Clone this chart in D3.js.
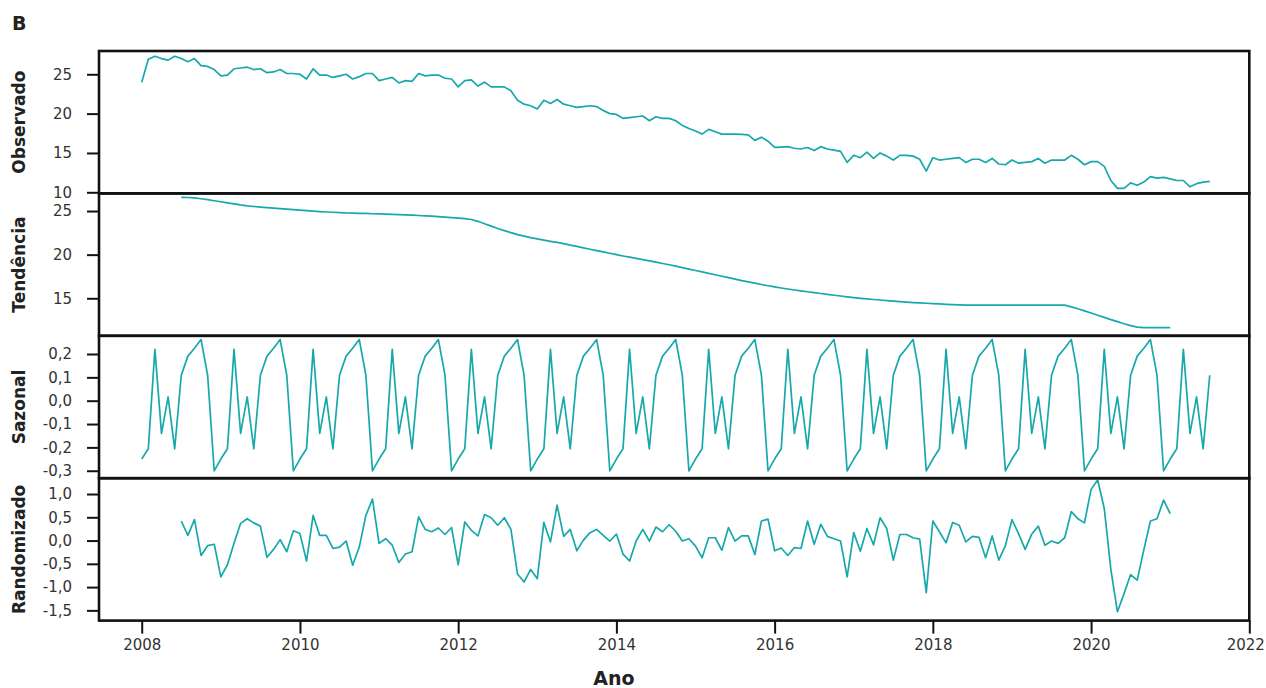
<!DOCTYPE html>
<html><head><meta charset="utf-8">
<script src="https://cdn.jsdelivr.net/npm/d3@7"></script>
<style>body{margin:0;background:#fff}svg{display:block}</style>
</head><body>
<svg id="chart" width="1266" height="688"></svg>
<script>
// ---- DATA (monthly series, first month = Jan 2008) ----
const startYear = 2008;
const observado = [
24.0,26.9,27.3,27.0,26.8,27.3,27.0,26.6,27.0,26.1,26.0,25.6,
24.8,24.9,25.7,25.8,25.9,25.6,25.7,25.2,25.3,25.6,25.1,25.1,
25.0,24.4,25.7,24.9,24.9,24.6,24.8,25.0,24.4,24.7,25.1,25.1,
24.2,24.4,24.6,23.9,24.2,24.1,25.1,24.8,24.9,24.9,24.5,24.4,
23.4,24.2,24.3,23.5,24.0,23.4,23.4,23.4,22.9,21.7,21.2,21.0,
20.6,21.7,21.3,21.8,21.2,21.0,20.8,20.9,21.0,20.9,20.4,20.0,
19.9,19.4,19.5,19.6,19.7,19.1,19.6,19.4,19.4,19.1,18.5,18.1,
17.8,17.4,18.0,17.7,17.4,17.4,17.4,17.35,17.3,16.6,17.0,16.5,
15.7,15.75,15.8,15.6,15.5,15.7,15.3,15.8,15.5,15.35,15.2,13.8,
14.7,14.4,15.1,14.3,15.0,14.6,14.1,14.7,14.7,14.6,14.2,12.7,
14.4,14.1,14.2,14.3,14.4,13.8,14.2,14.2,13.8,14.3,13.6,13.5,
14.1,13.7,13.8,13.9,14.3,13.7,14.1,14.1,14.1,14.7,14.2,13.5,
13.9,13.9,13.3,11.5,10.5,10.5,11.2,10.9,11.3,12.0,11.8,11.9,
11.7,11.5,11.5,10.7,11.1,11.3,11.4];

// trend and random start at month index 6 (Jul 2008)
const componentStart = 6;
const tendencia = [
26.56,26.55,26.50,26.41,26.30,26.18,26.06,25.94,25.82,25.70,25.60,25.52,
25.45,25.39,25.33,25.28,25.22,25.16,25.10,25.04,24.98,24.93,24.89,24.86,
24.82,24.78,24.76,24.74,24.72,24.69,24.67,24.64,24.61,24.58,24.55,24.52,
24.49,24.45,24.41,24.36,24.31,24.25,24.18,24.12,24.03,23.82,23.55,23.27,
23.00,22.76,22.52,22.30,22.12,21.95,21.80,21.66,21.53,21.40,21.26,21.10,
20.94,20.78,20.62,20.47,20.31,20.16,20.00,19.85,19.71,19.57,19.43,19.29,
19.14,18.99,18.84,18.68,18.52,18.35,18.18,18.02,17.86,17.70,17.53,17.36,
17.19,17.03,16.88,16.73,16.58,16.44,16.31,16.18,16.06,15.95,15.85,15.75,
15.65,15.55,15.45,15.35,15.26,15.17,15.08,15.00,14.93,14.86,14.80,14.74,
14.68,14.62,14.56,14.51,14.47,14.43,14.39,14.35,14.31,14.27,14.24,14.22,
14.22,14.22,14.22,14.22,14.22,14.22,14.22,14.22,14.22,14.22,14.22,14.22,
14.22,14.22,14.22,14.02,13.80,13.56,13.31,13.06,12.81,12.56,12.32,12.08,
11.86,11.70,11.64,11.64,11.64,11.64,11.64];

// seasonal figure, Jan..Dec (repeats every year)
const sazonalMensal = [-0.25,-0.206,0.22,-0.14,0.016,-0.206,0.109,0.191,0.225,0.262,0.109,-0.301];

const randomizado = [
0.42,0.11,0.45,-0.32,-0.11,-0.08,-0.78,-0.52,-0.06,0.37,0.47,0.38,
0.31,-0.36,-0.19,0.02,-0.24,0.21,0.15,-0.44,0.54,0.11,0.11,-0.17,
-0.14,-0.01,-0.53,-0.14,0.54,0.89,-0.06,0.04,-0.10,-0.47,-0.29,-0.24,
0.51,0.24,0.19,0.27,0.13,0.28,-0.52,0.40,0.22,0.10,0.56,0.49,
0.33,0.49,0.24,-0.72,-0.89,-0.62,-0.82,0.39,-0.03,0.76,0.09,0.24,
-0.22,0.01,0.17,0.24,0.11,-0.01,0.14,-0.29,-0.44,-0.01,0.24,-0.01,
0.29,0.19,0.34,0.20,-0.01,0.04,-0.12,-0.37,0.06,0.06,-0.21,0.28,
-0.01,0.10,0.10,-0.30,0.42,0.46,-0.22,-0.16,-0.32,-0.15,-0.17,0.42,
-0.08,0.35,0.09,0.04,-0.01,-0.78,0.17,-0.23,0.26,-0.09,0.49,0.26,
-0.42,0.13,0.13,0.06,0.03,-1.12,0.42,0.19,-0.05,0.39,0.33,-0.03,
0.09,0.07,-0.37,0.10,-0.42,-0.11,0.45,0.15,-0.19,0.14,0.31,-0.10,
-0.01,-0.06,0.06,0.62,0.47,0.38,1.10,1.30,0.69,-0.62,-1.53,-1.14,
-0.73,-0.85,-0.20,0.42,0.47,0.87,0.58];

const xTicks = [2008,2010,2012,2014,2016,2018,2020,2022];
const ticksObservado = [10,15,20,25];
const ticksTendencia = [15,20,25];
const ticksSazonal = [-0.3,-0.2,-0.1,0.0,0.1,0.2];
const ticksRandomizado = [-1.5,-1.0,-0.5,0.0,0.5,1.0];
const panelTitles = ["Observado","Tendência","Sazonal","Randomizado"];

(function draw(){
  const toPoints = (arr, start) => arr.map((v,k)=>({t: startYear + (start+k)/12, v}));
  const sazonal = observado.map((_,i)=>sazonalMensal[i%12]);

  const brLocale = d3.formatLocale({decimal:",", thousands:".", grouping:[3], currency:["R$",""], minus:"-"});
  const f0 = brLocale.format("d"), f1 = brLocale.format(".1f");

  const panels = [
    {title:panelTitles[0], data:toPoints(observado,0), domain:[9.86,27.96], ticks:ticksObservado, fmt:f0},
    {title:panelTitles[1], data:toPoints(tendencia,componentStart), domain:[10.70,27.02], ticks:ticksTendencia, fmt:f0},
    {title:panelTitles[2], data:toPoints(sazonal,0), domain:[-0.332,0.278], ticks:ticksSazonal, fmt:f1},
    {title:panelTitles[3], data:toPoints(randomizado,componentStart), domain:[-1.72,1.34], ticks:ticksRandomizado, fmt:f1}
  ];

  const svg = d3.select("#chart");
  const mLeft = 99, mRight = 1249.3, mTop = 51, ph = 142.4;
  const lineColor = "#17a8ab";
  const fontTick = "'DejaVu Sans', sans-serif";

  const x = d3.scaleLinear().domain([2007.46, 2022]).range([mLeft, mRight]);

  svg.append("text").attr("x",12).attr("y",30)
    .attr("font-family",fontTick).attr("font-weight","bold").attr("font-size",19)
    .attr("fill","#222").text("B");

  panels.forEach((p, k) => {
    const y0 = mTop + k*ph, y1 = y0 + ph;
    const y = d3.scaleLinear().domain(p.domain).range([y1, y0]);
    const g = svg.append("g");

    const line = d3.line().x(d=>x(d.t)).y(d=>y(d.v));
    g.append("path").datum(p.data).attr("d", line)
      .attr("fill","none").attr("stroke",lineColor).attr("stroke-width",1.7)
      .attr("stroke-linejoin","round");

    const ax = g.append("g").attr("transform",`translate(${mLeft},0)`)
      .call(d3.axisLeft(y).tickValues(p.ticks).tickFormat(p.fmt).tickSize(12).tickPadding(15));
    ax.select(".domain").remove();
    ax.selectAll(".tick line").attr("stroke","#111").attr("stroke-width",2);
    ax.selectAll(".tick text").attr("font-family",fontTick).attr("font-size",15).attr("fill","#333");

    g.append("text")
      .attr("transform",`translate(25,${(y0+y1)/2}) rotate(-90)`)
      .attr("text-anchor","middle")
      .attr("font-family",fontTick).attr("font-weight","bold").attr("font-size",17)
      .attr("fill","#222").text(p.title);

    g.append("rect").attr("x",mLeft).attr("y",y0).attr("width",mRight-mLeft).attr("height",ph)
      .attr("fill","none").attr("stroke","#111").attr("stroke-width",2.6);
  });

  const mBottom = mTop + 4*ph;
  const xa = svg.append("g").attr("transform",`translate(0,${mBottom})`)
    .call(d3.axisBottom(x).tickValues(xTicks).tickFormat(d3.format("d")).tickSize(13).tickPadding(6));
  xa.select(".domain").remove();
  xa.selectAll(".tick line").attr("stroke","#111").attr("stroke-width",2);
  xa.selectAll(".tick text").attr("font-family",fontTick).attr("font-size",15).attr("fill","#333");
  // keep the last label inside the page
  xa.selectAll(".tick text").filter(d => d === xTicks[xTicks.length-1]).attr("dx", -4);

  svg.append("text").attr("x",614).attr("y",685).attr("text-anchor","middle")
    .attr("font-family",fontTick).attr("font-weight","bold").attr("font-size",19)
    .attr("fill","#222").text("Ano");
})();
</script>
</body></html>
